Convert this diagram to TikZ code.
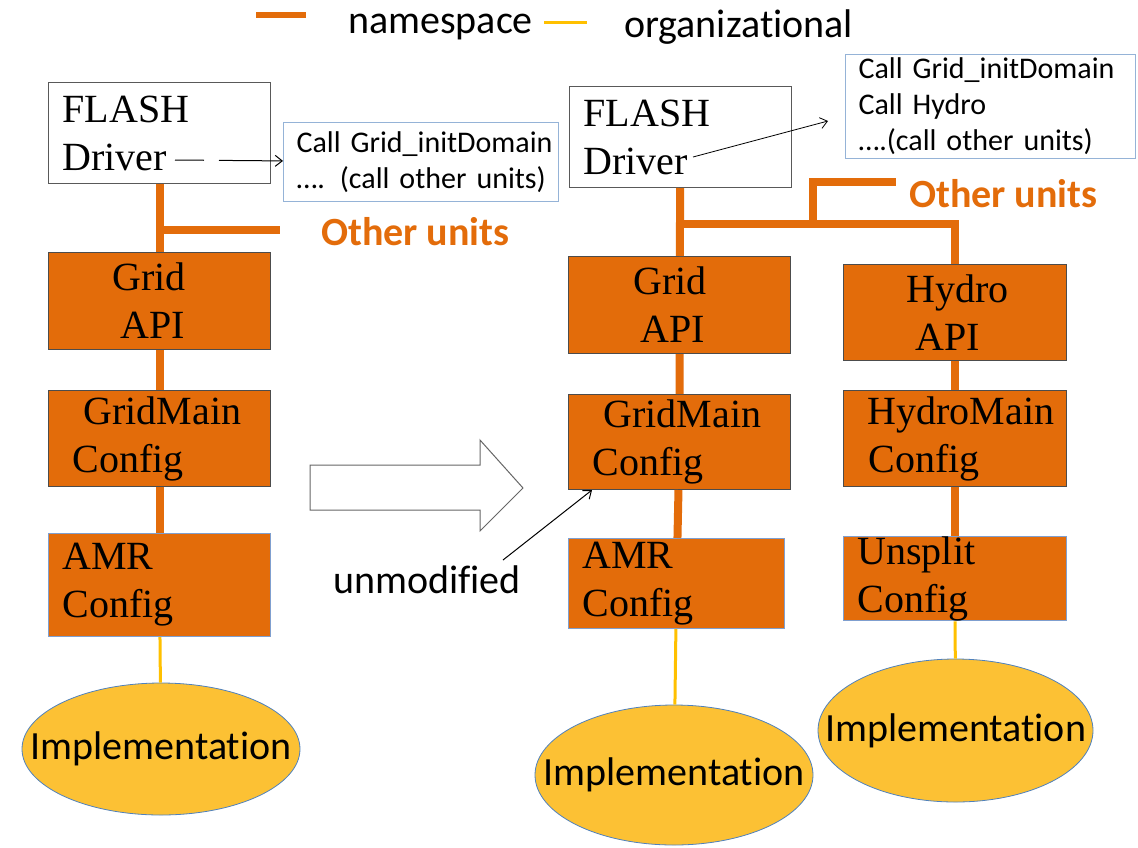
\documentclass[tikz,border=0pt]{standalone}
\usepackage{fontspec}
\setmainfont{Liberation Serif}
\newfontfamily\calibri{Carlito}[Ligatures=NoCommon]
\usetikzlibrary{shapes.geometric,arrows.meta}
\definecolor{unitorange}{RGB}{227,108,10}
\definecolor{orgyellow}{RGB}{255,192,0}
\definecolor{implfill}{RGB}{252,193,52}
\definecolor{implline}{RGB}{79,129,189}
\definecolor{callline}{RGB}{149,179,215}
\definecolor{cfgline}{RGB}{127,159,207}
\begin{document}
\begin{tikzpicture}[x=1pt,y=-1pt,
    >={Straight Barb[length=7pt,width=11pt]},
    box/.style={rectangle,anchor=north west,inner xsep=14pt,inner ysep=0pt,align=left,
      font=\fontsize{40}{48}\selectfont},
    drv/.style={box,draw=black!65,line width=1pt,fill=white},
    unit/.style={box,draw=black!70,line width=1pt,fill=unitorange},
    cfg/.style={unit,draw=cfgline},
    call/.style={rectangle,anchor=north west,draw=callline,line width=1.2pt,inner xsep=13pt,
      inner ysep=0pt,align=left,font=\calibri\fontsize{30}{36}\selectfont},
    impl/.style={ellipse,draw=implline,line width=0.8pt,fill=implfill,inner sep=0pt,
      label={[font=\calibri\fontsize{40}{48}\selectfont]center:Implementation}},
    lbl/.style={anchor=base west,inner sep=0pt,font=\calibri\fontsize{40}{48}\selectfont},
    others/.style={lbl,text=unitorange,font=\calibri\bfseries\fontsize{40}{48}\selectfont},
    ns/.style={draw=unitorange,line width=8pt},
    org/.style={draw=orgyellow,line width=3pt}]
  \useasboundingbox (0,0) rectangle (1138,847);

  % legend
  \draw[ns,line width=6pt] (256,15) -- (306,15);
  \node[lbl] (lgns) at (348,33) {namespace};
  \draw[org] (544,22) -- (587,22);
  \node[lbl] (lgorg) at (624,37) {organizational};

  % old layout
  \node[drv,text width=194pt,minimum height=101pt] (drvL) at (48,82) {FLASH\\Driver};
  \node[call,text width=249pt,minimum height=79pt] (callL) at (283,122)
    {\mbox{Call Grid\_initDomain}\\\mbox{…. (call other units)}};
  \node[unit,text width=194pt,minimum height=97pt] (gridL) at (48,252)
    {\hspace*{50pt}Grid\\\hspace*{58pt}API};
  \node[unit,text width=194pt,minimum height=96pt] (gmainL) at (48,390)
    {\hspace*{21pt}\mbox{GridMain}\\\hspace*{10pt}Config};
  \node[cfg,text width=194pt,minimum height=103pt] (amrL) at (48,533) {AMR\\Config};
  \node[impl,minimum width=278pt,minimum height=132pt] (implL) at (161,749) {};

  \draw[ns] (drvL) -- (gridL) (gridL) -- (gmainL) (gmainL) -- (amrL);
  \draw[org] (amrL) -- (implL);
  \coordinate (ouL) at (280,230);
  \draw[ns] (drvL.south |- ouL) -- (ouL);
  \node[others] (otherL) at (321,245) {Other units};
  \coordinate (dL) at (175,160);
  \draw[->,line width=1pt,dash pattern=on 29pt off 15pt on 100pt] (dL) -- (callL);

  % big arrow
  \draw[draw=black!60,fill=white,line width=1pt]
    (310,465) -- (480,465) -- (480,440) -- (523,488) -- (480,531) -- (480,510) -- (310,510) -- cycle;

  % new layout
  \node[drv,text width=194pt,minimum height=101pt] (drvR) at (569,86) {FLASH\\Driver};
  \node[call,text width=264pt,minimum height=104pt] (callR) at (845,54)
    {\mbox{Call Grid\_initDomain}\\\mbox{Call Hydro}\\\mbox{….(call other units)}};
  \node[unit,text width=194pt,minimum height=97pt] (gridR) at (568,256)
    {\hspace*{51pt}Grid\\\hspace*{58pt}API};
  \node[unit,text width=194pt,minimum height=95pt] (gmainR) at (568,394)
    {\hspace*{21pt}\mbox{GridMain}\\\hspace*{10pt}Config};
  \node[cfg,text width=188pt,minimum height=90pt] (amrR) at (568,538) {AMR\\Config};
  \node[impl,minimum width=278pt,minimum height=140pt] (implR) at (674,775) {};
  \node[unit,text width=195pt,minimum height=96pt] (hapi) at (843,264)
    {\hspace*{49pt}Hydro\\\hspace*{58pt}API};
  \node[unit,text width=195pt,minimum height=96pt] (hmain) at (843,390)
    {\hspace*{10pt}\mbox{HydroMain}\\\hspace*{11pt}Config};
  \node[cfg,text width=195pt,minimum height=81pt] (usplit) at (843,536) {Unsplit\\Config};
  \node[impl,minimum width=275pt,minimum height=143pt] (implH) at (955.5,730.5) {};

  \draw[ns] (drvR) -- (gridR) (gridR) -- (gmainR) (gmainR) -- (amrR);
  \draw[ns] (hapi) -- (hmain) (hmain) -- (usplit);
  \draw[org] (amrR) -- (implR) (usplit) -- (implH);
  \coordinate (jR) at (680,224);
  \draw[ns] (jR) -| (hapi);
  \coordinate (bR) at (813,224);
  \coordinate (ouR) at (896,182);
  \draw[ns] (bR) |- (ouR);
  \node[others] (otherR) at (909,207) {Other units};
  \coordinate (dR) at (693,157);
  \coordinate (tR) at (828,121);
  \draw[->,line width=0.8pt] (dR) -- (tR);

  \node[lbl] (unmod) at (333,593) {unmodified};
  \draw[->,line width=1pt] ([shift={(-18pt,5pt)}]unmod.north east) -- ([xshift=24pt]gmainR.south west);
\end{tikzpicture}
\end{document}
